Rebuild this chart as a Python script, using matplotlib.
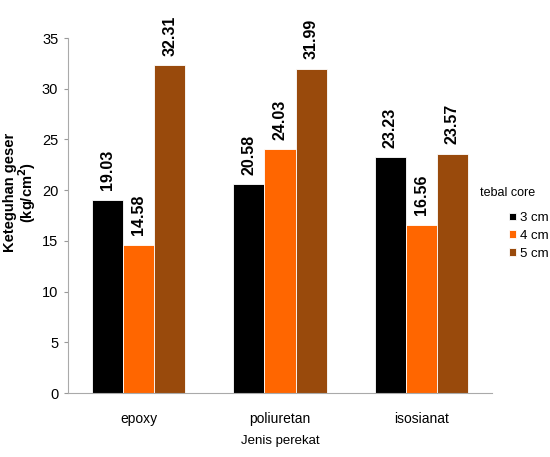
import matplotlib
matplotlib.use("Agg")
import matplotlib.pyplot as plt
import numpy as np

plt.rcParams['font.family'] = ['Liberation Sans', 'DejaVu Sans']

categories = ['epoxy', 'poliuretan', 'isosianat']
series_names = ['3 cm', '4 cm', '5 cm']
values_3cm = [19.03, 20.58, 23.23]
values_4cm = [14.58, 24.03, 16.56]
values_5cm = [32.31, 31.99, 23.57]
colors = ['#000000', '#FF6600', '#994A0C']

fig = plt.figure(figsize=(5.5, 4.57), dpi=100)
ax = fig.add_axes([0.1236, 0.140, 0.7709, 0.7768])

x = np.arange(len(categories))
w = 0.22
all_vals = [values_3cm, values_4cm, values_5cm]
for i, (vals, name, c) in enumerate(zip(all_vals, series_names, colors)):
    pos = x + (i - 1) * w
    ax.bar(pos, vals, width=w, color=c, edgecolor='white', linewidth=0.6, label=name)
    for p, v in zip(pos, vals):
        ax.annotate(f'{v:.2f}', xy=(p, v), xytext=(0, 7), textcoords='offset points',
                    rotation=90, ha='center', va='bottom',
                    fontsize=11.5, fontweight='bold')

ax.set_xlim(-0.5, 2.5)
ax.set_ylim(0, 35)
ax.set_yticks(np.arange(0, 36, 5))
ax.set_xticks(x)
ax.set_xticklabels(categories, fontsize=10)
ax.set_yticklabels([str(v) for v in range(0, 36, 5)], fontsize=10.5)
ax.tick_params(axis='y', length=3, color='#999999', width=0.8, pad=4)
ax.tick_params(axis='x', length=0, pad=14)
for s in ['top', 'right']:
    ax.spines[s].set_visible(False)
ax.spines['left'].set_color('#aaaaaa')
ax.spines['bottom'].set_color('#aaaaaa')

ax.set_ylabel('Keteguhan geser\n(kg/cm$^\\mathbf{2}$)', fontsize=10.5, fontweight='bold', linespacing=0.95)
ax.yaxis.set_label_coords(-0.071, 0.565)
ax.set_xlabel('Jenis perekat', fontsize=9.5, labelpad=6)

fig.text(480 / 550, 1 - 193 / 457, 'tebal core', fontsize=9, ha='left', va='center')
leg = ax.legend(loc='upper left', bbox_to_anchor=(509 / 550, 1 - 212 / 457),
                bbox_transform=fig.transFigure, frameon=False,
                prop={'size': 9.5},
                borderaxespad=0, borderpad=0,
                handlelength=0.5, handleheight=0.5, handletextpad=0.3, labelspacing=0.45)

fig.savefig('out.png', dpi=100)
